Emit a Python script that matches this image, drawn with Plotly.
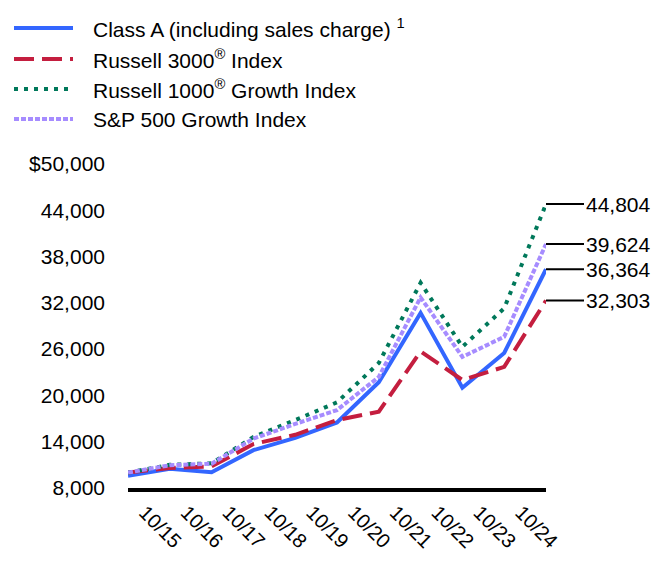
import plotly.graph_objects as go

dates = ["10/14", "10/15", "10/16", "10/17", "10/18", "10/19", "10/20", "10/21", "10/22", "10/23", "10/24"]
class_a = [9600, 10500, 10050, 12900, 14500, 16500, 21700, 30700, 21000, 25500, 36364]
russell_3000 = [10000, 10600, 10800, 13700, 14900, 16800, 17900, 25700, 22000, 23700, 32303]
russell_1000g = [10000, 11000, 11200, 14600, 16800, 19100, 24200, 34600, 26300, 31300, 44804]
sp500g = [10000, 10950, 11150, 14400, 16300, 18100, 22400, 32700, 25000, 27600, 39624]

y_tickvals = [8000, 14000, 20000, 26000, 32000, 38000, 44000, 50000]
y_ticktext = ["8,000", "14,000", "20,000", "26,000", "32,000", "38,000", "44,000", "$50,000"]

names = ["Class A (including sales charge) <sup>1</sup>", "Russell 3000<sup>®</sup> Index",
         "Russell 1000<sup>®</sup> Growth Index", "S&P 500 Growth Index"]
series = [class_a, russell_3000, russell_1000g, sp500g]
colors = ["#3366FF", "#C41E3F", "#00785A", "#A68CFF"]
dashes = ["solid", "20px,8px", "4px,6px", "5px,2px"]

FONT = "Arial, 'Liberation Sans', sans-serif"
FS = 21
x = list(range(len(dates)))

fig = go.Figure()
for name, vals, c, d in zip(names, series, colors, dashes):
    fig.add_trace(go.Scatter(x=x, y=vals, mode="lines", name=name,
                             line=dict(color=c, width=4, dash=d), showlegend=False,
                             cliponaxis=False))

# Figure frame (page body has an 8px margin)
L, R, T, B = 120, 126, 156, 100
W, H = 664, 580
pw, ph = W - L - R, H - T - B

def px_x(p):
    return (p - L) / pw

def px_y(p):
    return (H - B - p) / ph

shapes = []
annotations = []
# manual legend
leg_rows = [20, 51, 81, 111]
for name, c, d, ry in zip(names, colors, dashes, leg_rows):
    shapes.append(dict(type="line", xref="paper", yref="paper",
                       x0=px_x(6), x1=px_x(65), y0=px_y(ry), y1=px_y(ry),
                       line=dict(color=c, width=4, dash=d)))
    annotations.append(dict(xref="paper", yref="paper", x=px_x(83), y=px_y(ry),
                            xanchor="left", yanchor="middle", text=name, showarrow=False,
                            font=dict(family=FONT, size=FS, color="#000000")))

# end labels with leader lines
for vals in series:
    v = vals[-1]
    annotations.append(dict(xref="x", yref="y", x=x[-1], y=v,
                            showarrow=True, arrowhead=0, arrowwidth=2, arrowcolor="#000000",
                            axref="pixel", ayref="pixel", ax=38, ay=0, standoff=0,
                            xanchor="left", yanchor="middle", text=f"{v:,}",
                            font=dict(family=FONT, size=FS, color="#000000")))

fig.update_layout(
    width=W, height=H,
    margin=dict(l=L, r=R, t=T, b=B),
    paper_bgcolor="white", plot_bgcolor="white",
    font=dict(family=FONT, size=FS, color="#000000"),
    shapes=shapes, annotations=annotations,
    showlegend=False,
)
fig.update_xaxes(range=[0, 10], tickvals=x[1:], ticktext=dates[1:], tickangle=45,
                 showgrid=False, zeroline=False, showline=True, linecolor="#000000",
                 linewidth=4, ticks="", ticklabelshift=-25, ticklabelstandoff=1,
                 automargin=False,
                 tickfont=dict(family=FONT, size=20, color="#000000"))
fig.update_yaxes(range=[8000, 50000], tickvals=y_tickvals, ticktext=y_ticktext,
                 showgrid=False, zeroline=False, showline=False, ticks="",
                 ticklabelstandoff=22, automargin=False,
                 tickfont=dict(family=FONT, size=FS, color="#000000"))

fig.write_html("out.html")
